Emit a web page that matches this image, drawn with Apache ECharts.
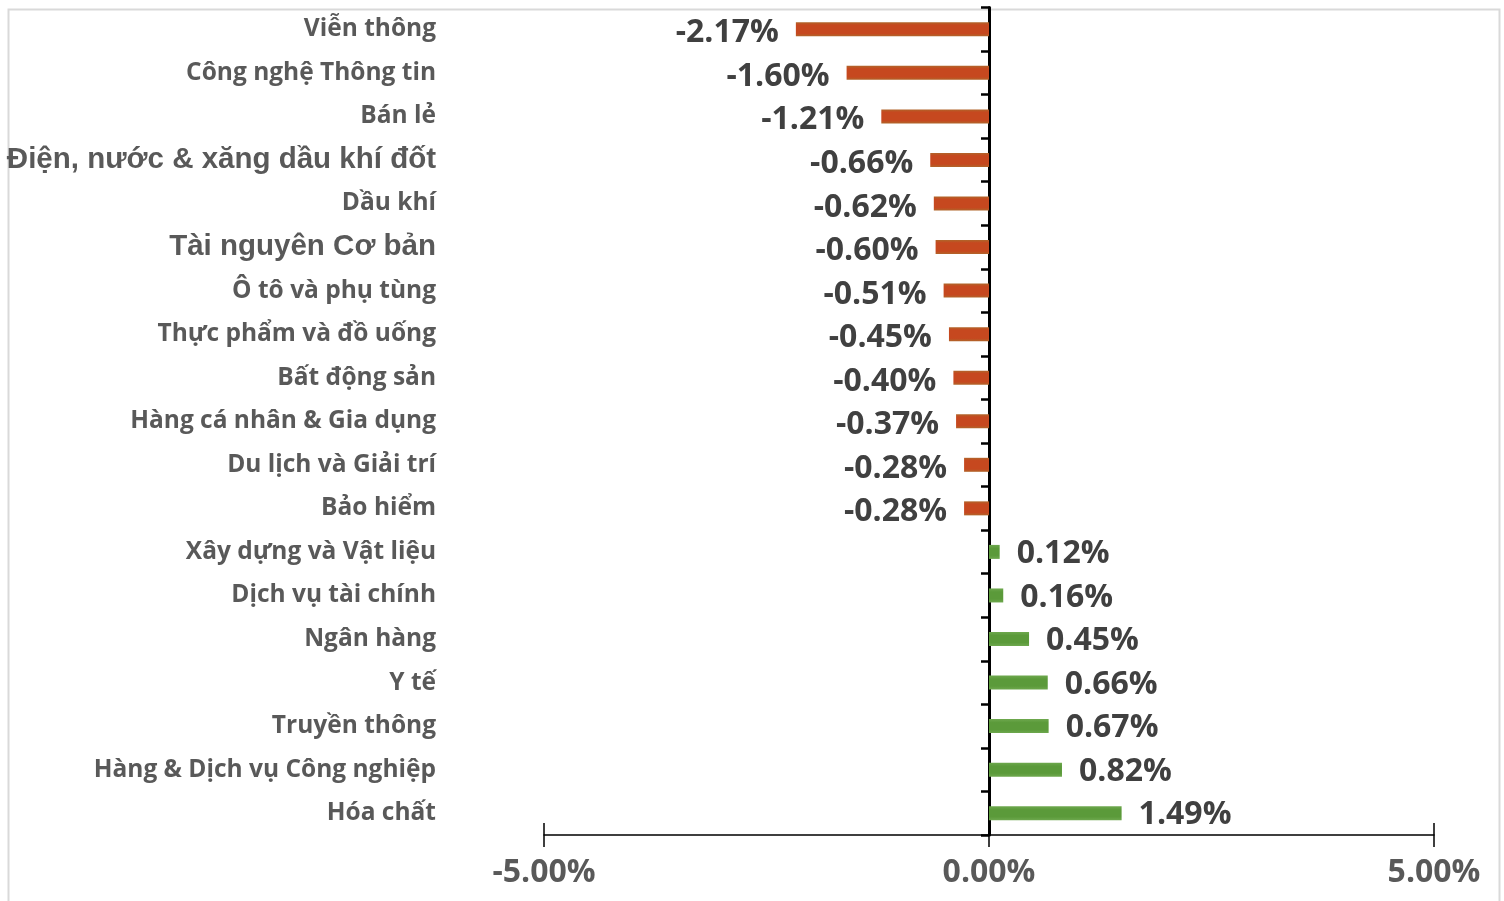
<!DOCTYPE html>
<html>
<head>
<meta charset="utf-8">
<script src="https://cdn.jsdelivr.net/npm/echarts@6/dist/echarts.min.js"></script>
<style>
  html, body { margin: 0; padding: 0; background: #fff; }
  #chart { width: 1504px; height: 901px; }
</style>
</head>
<body>
<div id="chart"></div>
<script>
// nhóm ngành, từ trên xuống
var categories = [
    'Viễn thông', 'Công nghệ Thông tin', 'Bán lẻ', 'Điện, nước & xăng dầu khí đốt',
    'Dầu khí', 'Tài nguyên Cơ bản', 'Ô tô và phụ tùng', 'Thực phẩm và đồ uống',
    'Bất động sản', 'Hàng cá nhân & Gia dụng', 'Du lịch và Giải trí', 'Bảo hiểm',
    'Xây dựng và Vật liệu', 'Dịch vụ tài chính', 'Ngân hàng', 'Y tế',
    'Truyền thông', 'Hàng & Dịch vụ Công nghiệp', 'Hóa chất'
];
// % thay đổi
var changes = [
    -2.17, -1.60, -1.21, -0.66, -0.62, -0.60, -0.51, -0.45, -0.40, -0.37, -0.28, -0.28,
    0.12, 0.16, 0.45, 0.66, 0.67, 0.82, 1.49
];
// nhãn hiển thị bằng font khác
var arialLabels = ['Điện, nước & xăng dầu khí đốt', 'Tài nguyên Cơ bản'];

var chart = echarts.init(document.getElementById('chart'));

var redBar = new echarts.graphic.LinearGradient(0, 0, 0, 1, [
    { offset: 0, color: '#b0652a' },
    { offset: 0.2, color: '#c6481f' },
    { offset: 0.8, color: '#c6481f' },
    { offset: 1, color: '#b0652a' }
]);
var greenBar = new echarts.graphic.LinearGradient(0, 0, 0, 1, [
    { offset: 0, color: '#6ea84e' },
    { offset: 0.25, color: '#5b9a3a' },
    { offset: 0.75, color: '#5b9a3a' },
    { offset: 1, color: '#6ea84e' }
]);

var catData = categories.map(function (c) {
    if (arialLabels.indexOf(c) >= 0) {
        return { value: c, textStyle: { fontFamily: 'Liberation Sans', fontSize: 29.5 } };
    }
    return c;
});

var barData = changes.map(function (v) {
    var neg = v < 0;
    return {
        value: v,
        itemStyle: { color: neg ? redBar : greenBar },
        label: { position: neg ? 'left' : 'right', offset: neg ? [0, 4] : [0, 2] }
    };
});

var option = {
    animation: false,
    backgroundColor: '#fff',
    graphic: [{
        type: 'rect',
        left: 6, top: 7,
        shape: { width: 1491, height: 900 },
        style: { fill: 'none', stroke: '#d9d9d9', lineWidth: 2 },
        silent: true
    }],
    grid: {
        left: 544, right: 70, top: 7.5, bottom: 66,
        containLabel: false, outerBoundsMode: 'none'
    },
    xAxis: [{
        type: 'value',
        position: 'bottom',
        min: -5, max: 5, interval: 5,
        splitLine: { show: false },
        axisLine: { show: true, onZero: false, lineStyle: { color: '#000', width: 1.5 } },
        axisTick: { show: true, length: 12, lineStyle: { color: '#000', width: 1.5 } },
        axisLabel: {
            margin: 22,
            color: '#595959',
            fontFamily: 'Open Sans',
            fontWeight: 'bold',
            fontSize: 32,
            formatter: function (v) { return v.toFixed(2) + '%'; }
        }
    }, {
        type: 'value',
        position: 'bottom',
        offset: 0,
        min: -5, max: 5, interval: 5,
        splitLine: { show: false },
        axisLine: { show: false },
        axisTick: { show: true, inside: true, length: 12, lineStyle: { color: '#000', width: 1.5 } },
        axisLabel: { show: false }
    }],
    yAxis: [{
        // nhãn ngành bên trái
        type: 'category',
        inverse: true,
        position: 'left',
        data: catData,
        axisLine: { show: false, onZero: false },
        axisTick: { show: false },
        axisLabel: {
            margin: 108,
            color: '#595959',
            fontFamily: 'Open Sans',
            fontWeight: 'bold',
            fontSize: 24.5,
            padding: [3, 0, 0, 0]
        }
    }, {
        // trục tại 0%
        type: 'category',
        inverse: true,
        position: 'left',
        data: categories,
        axisLine: { show: true, onZero: true, lineStyle: { color: '#000', width: 3 } },
        axisTick: { show: true, length: 8, lineStyle: { color: '#000', width: 2.5 } },
        axisLabel: { show: false }
    }],
    series: [{
        type: 'bar',
        xAxisIndex: 0,
        yAxisIndex: 0,
        barWidth: 14,
        data: barData,
        label: {
            show: true,
            distance: 17,
            color: '#404040',
            fontFamily: 'Open Sans',
            fontWeight: 'bold',
            fontSize: 32,
            formatter: function (p) { return p.value.toFixed(2) + '%'; }
        }
    }]
};

chart.setOption(option);
</script>
</body>
</html>
